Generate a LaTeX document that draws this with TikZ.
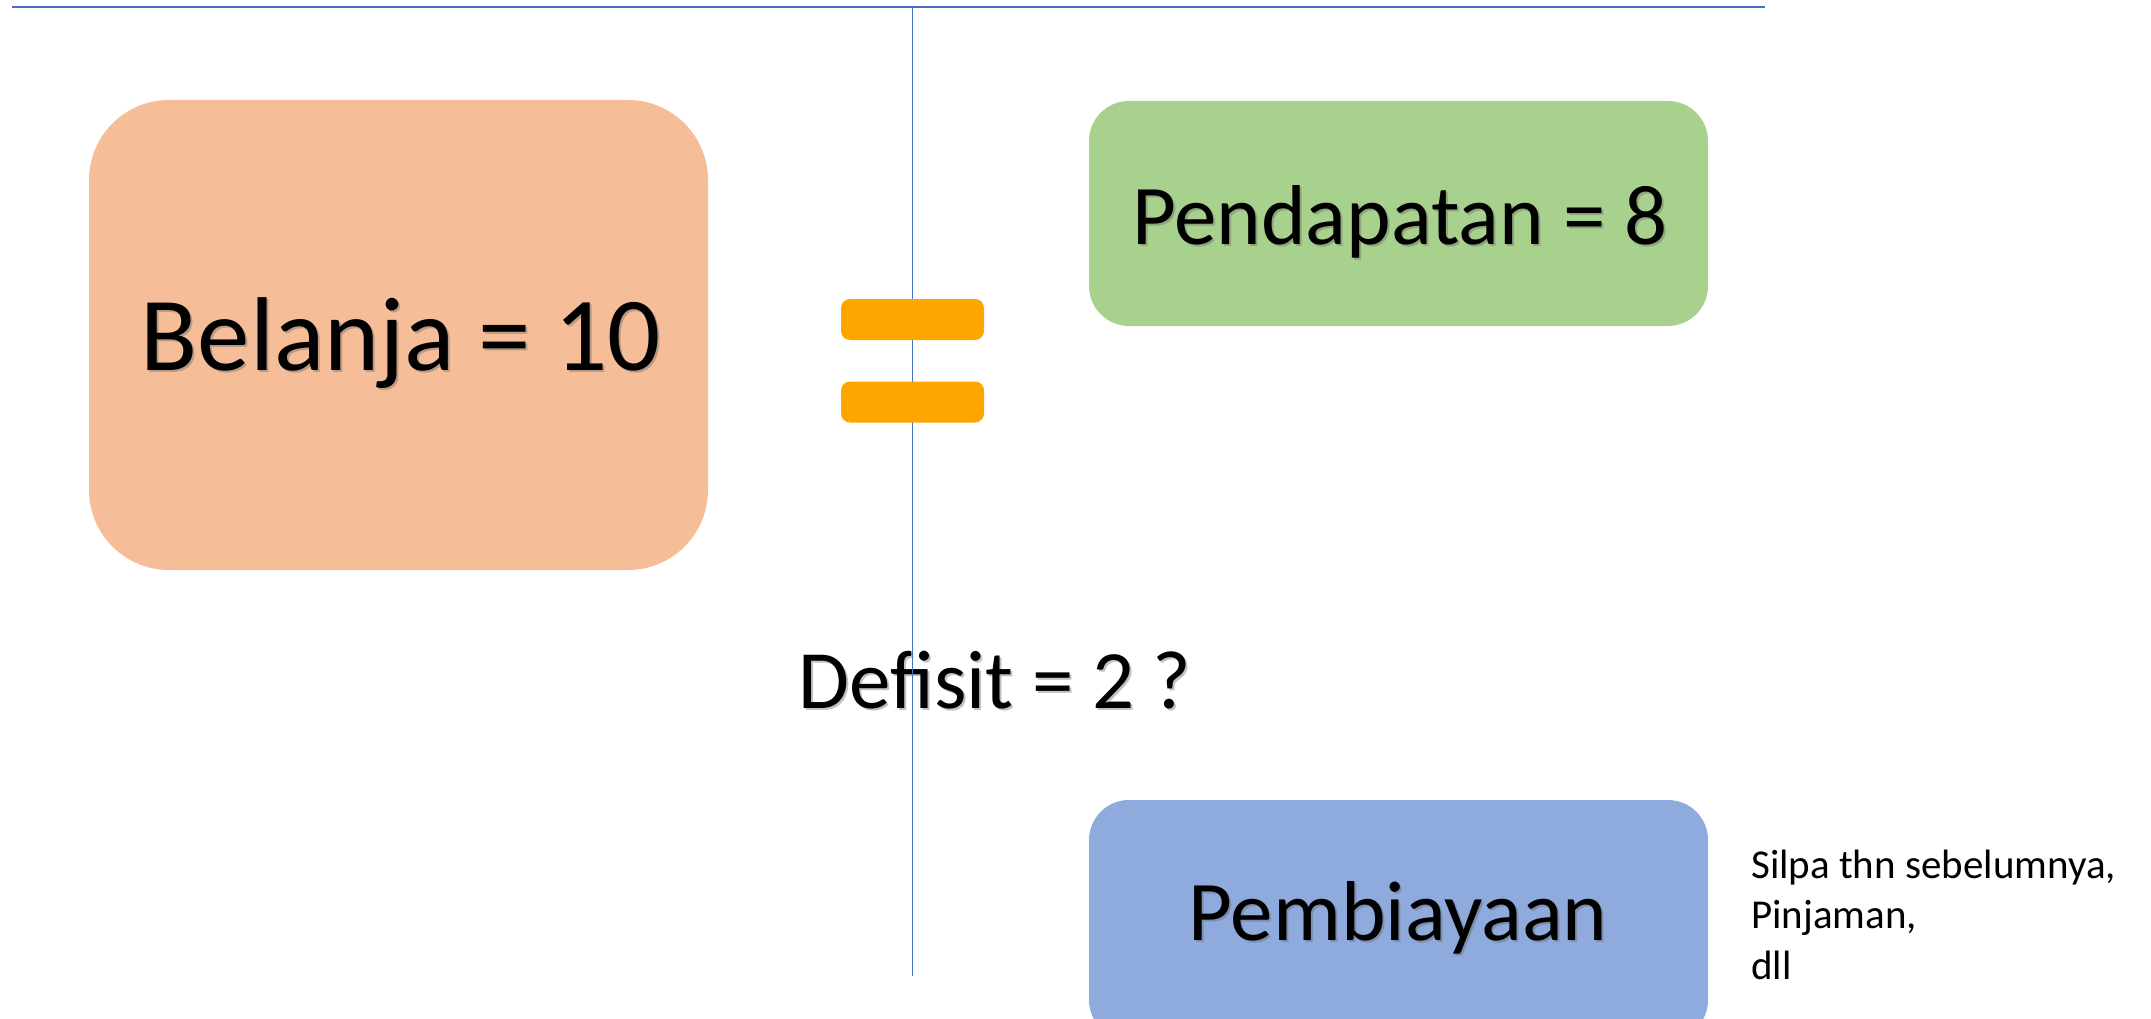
\documentclass[tikz,border=0pt]{standalone}
\usepackage{fontspec}
\setmainfont{Carlito}
\definecolor{linecol}{HTML}{4472C4}
\definecolor{belanjacol}{HTML}{F5BE98}
\definecolor{pendcol}{HTML}{A9D18E}
\definecolor{pembcol}{HTML}{8FAADC}
\definecolor{eqcol}{HTML}{FFA500}
\tikzset{
  box/.style={draw=none, rectangle, inner sep=0pt},
  bar/.style={draw=none, fill=eqcol, rectangle, inner sep=0pt, minimum width=143pt, minimum height=41pt, rounded corners=9pt},
  bigtext/.style={anchor=base, inner sep=0pt, text=black},
  shadowtext/.style={anchor=base, inner sep=0pt, text=black!60, opacity=0.4},
  sidetext/.style={anchor=base west, inner sep=0pt, text=black, font=\fontsize{41}{41}\selectfont},
  rule/.style={draw=linecol}
}
\begin{document}
\begin{tikzpicture}[x=1pt,y=-1pt]
\useasboundingbox (0,0) rectangle (2151,1019);
\clip (0,0) rectangle (2151,1019);
% Defisit text (under the line)
\node[shadowtext, font=\fontsize{83}{83}\selectfont] (defisitsh) at (997,710) {Defisit = 2 ?};
\node[bigtext, font=\fontsize{83}{83}\selectfont] (defisit) at (995,708) {Defisit = 2 ?};
% lines
\coordinate (tl) at (12,7.5);
\coordinate (tr) at (1765,7.5);
\coordinate (vt) at (912.5,7.5);
\coordinate (vb) at (912.5,976);
\draw[rule, line width=2pt] (tl) -- (tr);
\draw[rule, line width=1.5pt] (vt) -- (vb);
% equal sign bars
\node[bar] (eqtop) at (912.5,319.5) {};
\node[bar] (eqbot) at (912.5,402) {};
% boxes
\node[box, fill=belanjacol, minimum width=619pt, minimum height=470pt, rounded corners=80pt] (belanja) at (398.5,335) {};
\node[box, fill=pendcol, minimum width=619pt, minimum height=225pt, rounded corners=40pt] (pendapatan) at (1398.5,213.5) {};
\node[box, fill=pembcol, minimum width=619pt, minimum height=240pt, rounded corners=40pt] (pembiayaan) at (1398.5,920) {};
% box texts
\node[shadowtext, font=\fontsize{105}{105}\selectfont] (belanjatsh) at (403,372) {Belanja = 10};
\node[bigtext, font=\fontsize{105}{105}\selectfont] (belanjat) at (401,370) {Belanja = 10};
\node[shadowtext, font=\fontsize{85}{85}\selectfont] (pendtsh) at (1402,246) {Pendapatan = 8};
\node[bigtext, font=\fontsize{85}{85}\selectfont] (pendt) at (1400,244) {Pendapatan = 8};
\node[shadowtext, font=\fontsize{85}{85}\selectfont] (pembtsh) at (1400,942) {Pembiayaan};
\node[bigtext, font=\fontsize{85}{85}\selectfont] (pembt) at (1398,940) {Pembiayaan};
% side text
\node[sidetext] (side1) at (1751,878) {Silpa thn sebelumnya,};
\node[sidetext] (side2) at (1751,928) {Pinjaman,};
\node[sidetext] (side3) at (1751,979) {dll};
\end{tikzpicture}
\end{document}
